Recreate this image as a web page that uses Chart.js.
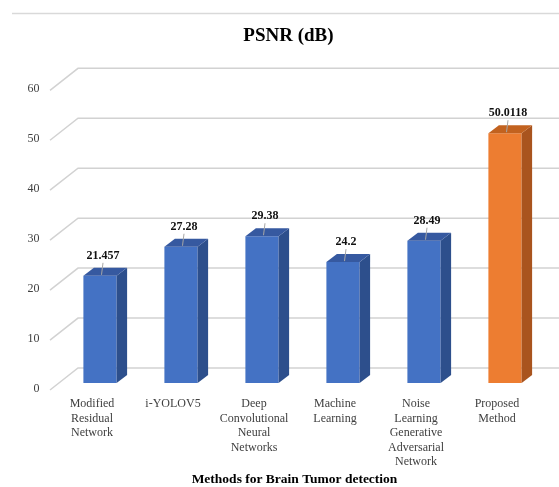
<!DOCTYPE html>
<html>
<head>
<meta charset="utf-8">
<script src="https://cdn.jsdelivr.net/npm/chart.js@4.4.0/dist/chart.umd.min.js"></script>
<style>
  body { margin: 0; background: #fff; }
  #wrap { width: 559px; height: 487px; }
</style>
</head>
<body>
<div id="wrap"><canvas id="psnrChart"></canvas></div>
<script>
// data
const methods = [
  ["Modified", "Residual", "Network"],
  ["i-YOLOV5"],
  ["Deep", "Convolutional", "Neural", "Networks"],
  ["Machine", "Learning"],
  ["Noise", "Learning", "Generative", "Adversarial", "Network"],
  ["Proposed", "Method"]
];
const psnrValues = [21.457, 27.28, 29.38, 24.2, 28.49, 50.0118];
const yMin = 0, yMax = 60, yStep = 10;

const serif = "'Liberation Serif', 'Times New Roman', serif";

// colours for the faces of each bar (last one is the proposed method)
const frontCol = ["#4472C4", "#4472C4", "#4472C4", "#4472C4", "#4472C4", "#ED7D31"];
const sideCol  = ["#2D4F8C", "#2D4F8C", "#2D4F8C", "#2D4F8C", "#2D4F8C", "#A9541E"];
const topCol   = ["#3659A0", "#3659A0", "#3659A0", "#3659A0", "#3659A0", "#C2621F"];

// fake 3d look: walls, floor grid, bar sides + tops, value labels, titles
const threeD = {
  id: "threeD",
  beforeDraw(chart) {
    const ctx = chart.ctx;
    ctx.save();
    ctx.strokeStyle = "#d9d9d9";
    ctx.lineWidth = 1.5;
    ctx.beginPath();
    ctx.moveTo(12, 13.5);
    ctx.lineTo(chart.width, 13.5);
    ctx.stroke();
    ctx.fillStyle = "#000";
    ctx.font = "bold 19px " + serif;
    ctx.textAlign = "center";
    ctx.textBaseline = "middle";
    ctx.fillText("PSNR (dB)", 288.4, 36);
    ctx.restore();
  },
  beforeDatasetsDraw(chart) {
    const ctx = chart.ctx, ys = chart.scales.y, left = chart.chartArea.left;
    ctx.save();
    ctx.strokeStyle = "#d2d2d2";
    ctx.lineWidth = 1.5;
    ys.ticks.forEach(t => {
      const py = ys.getPixelForValue(t.value);
      ctx.beginPath();
      ctx.moveTo(left - 9.5, py + 7);
      ctx.lineTo(left + 18.5, py - 15);
      ctx.lineTo(chart.width, py - 15);
      ctx.stroke();
    });
    ctx.restore();
  },
  afterDatasetsDraw(chart) {
    const ctx = chart.ctx;
    const meta = chart.getDatasetMeta(0);
    const dx = 10.5, dy = -8;
    ctx.save();
    meta.data.forEach((bar, i) => {
      const l = bar.x - bar.width / 2, r = bar.x + bar.width / 2;
      // side
      ctx.fillStyle = sideCol[i];
      ctx.beginPath();
      ctx.moveTo(r, bar.y);
      ctx.lineTo(r + dx, bar.y + dy);
      ctx.lineTo(r + dx, bar.base + dy);
      ctx.lineTo(r, bar.base);
      ctx.closePath();
      ctx.fill();
      // top
      ctx.fillStyle = topCol[i];
      ctx.beginPath();
      ctx.moveTo(l, bar.y);
      ctx.lineTo(l + dx, bar.y + dy);
      ctx.lineTo(r + dx, bar.y + dy);
      ctx.lineTo(r, bar.y);
      ctx.closePath();
      ctx.fill();
      // leader line
      ctx.strokeStyle = "#a6a6a6";
      ctx.lineWidth = 1;
      ctx.beginPath();
      ctx.moveTo(bar.x + 3, bar.y - 13);
      ctx.lineTo(bar.x + 1.5, bar.y - 1);
      ctx.stroke();
      // value
      ctx.fillStyle = "#111";
      ctx.font = "bold 12px " + serif;
      ctx.textAlign = "center";
      ctx.textBaseline = "middle";
      ctx.fillText(String(psnrValues[i]), bar.x + 3, bar.y - 20);
    });
    // x axis title
    ctx.fillStyle = "#000";
    ctx.font = "bold 13.5px " + serif;
    ctx.fillText("Methods for Brain Tumor detection", 294.5, 480);
    ctx.restore();
  }
};

const ctx = document.getElementById("psnrChart");
const chart = new Chart(ctx, {
  type: "bar",
  data: {
    labels: methods,
    datasets: [{
      data: psnrValues,
      backgroundColor: frontCol,
      borderWidth: 0,
      barPercentage: 0.41,
      categoryPercentage: 1
    }]
  },
  options: {
    responsive: true,
    maintainAspectRatio: false,
    animation: false,
    devicePixelRatio: 1,
    layout: { padding: { left: 0, right: 13.5, top: 83.3, bottom: 0 } },
    plugins: {
      legend: { display: false },
      tooltip: { enabled: false },
      title: { display: false }
    },
    scales: {
      x: {
        grid: { display: false, drawTicks: false },
        border: { display: false },
        ticks: {
          color: "#404040",
          font: { family: serif, size: 12, lineHeight: 1.2 },
          padding: 14,
          labelOffset: -8,
          maxRotation: 0,
          autoSkip: false
        },
        afterFit(s) { s.height = 104; }
      },
      y: {
        min: yMin,
        max: yMax,
        grid: { display: false, drawTicks: false },
        border: { display: false },
        ticks: {
          stepSize: yStep,
          color: "#404040",
          font: { family: serif, size: 12 },
          padding: 20,
          labelOffset: 6
        },
        afterFit(s) { s.width = 59.5; }
      }
    }
  },
  plugins: [threeD]
});
</script>
</body>
</html>
